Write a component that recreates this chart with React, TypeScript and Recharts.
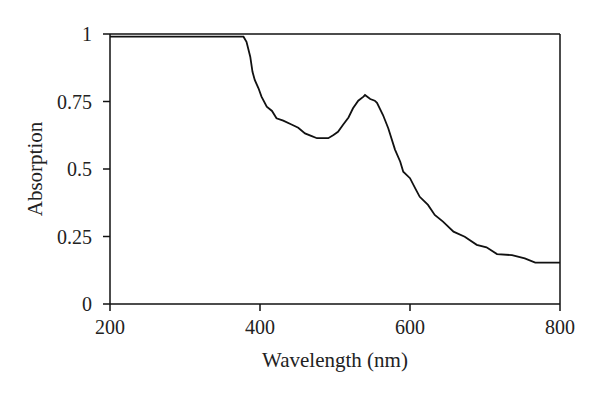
import { LineChart, Line, XAxis, YAxis, ReferenceLine } from "recharts";

// wavelength (nm) and absorption
const wavelength = [
  200, 250, 300, 350, 378, 382, 387, 390, 393, 398, 402, 409, 416, 422, 431,
  442, 451, 460, 469, 476, 491, 498, 504, 511, 518, 524, 531, 538, 540, 547,
  553, 556, 564, 571, 580, 587, 591, 600, 607, 613, 624, 633, 644, 658, 673,
  689, 702, 716, 736, 753, 767, 800,
];
const absorption = [
  0.99, 0.99, 0.99, 0.99, 0.99, 0.971, 0.916, 0.86, 0.83, 0.799, 0.768, 0.731,
  0.715, 0.688, 0.679, 0.665, 0.653, 0.632, 0.622, 0.614, 0.614, 0.626, 0.638,
  0.665, 0.691, 0.725, 0.753, 0.768, 0.774, 0.759, 0.753, 0.745, 0.7, 0.651,
  0.572, 0.527, 0.49, 0.466, 0.428, 0.397, 0.367, 0.33, 0.305, 0.268, 0.249,
  0.219, 0.21, 0.185, 0.181, 0.169, 0.153, 0.153,
];
const xTicks = [200, 400, 600, 800];
const yTicks = [0, 0.25, 0.5, 0.75, 1];

const data = wavelength.map((w, i) => ({ w, a: absorption[i] }));

const font = "'Liberation Serif', 'Times New Roman', serif";
const tickStyle = { fontFamily: font, fontSize: 20, fill: "#222" };
const titleStyle = { fontFamily: font, fontSize: 21, fill: "#222" };

export default function App() {
  return (
    <div style={{ position: "absolute", left: 0, top: 0, background: "#fff" }}>
      <LineChart
        width={600}
        height={393}
        data={data}
        margin={{ top: 34, right: 40, bottom: 59, left: 10 }}
      >
        <XAxis
          dataKey="w"
          type="number"
          domain={[200, 800]}
          ticks={xTicks}
          tickSize={7}
          tickMargin={9}
          height={30}
          stroke="#111"
          strokeWidth={1.5}
          tick={tickStyle}
          label={{
            value: "Wavelength (nm)",
            position: "bottom",
            offset: 18,
            style: titleStyle,
          }}
        />
        <YAxis
          type="number"
          domain={[0, 1]}
          ticks={yTicks}
          width={100}
          tickSize={7}
          tickMargin={11}
          stroke="#111"
          strokeWidth={1.5}
          tick={tickStyle}
          label={{
            value: "Absorption",
            angle: -90,
            position: "insideLeft",
            offset: 25,
            textAnchor: "middle",
            style: titleStyle,
          }}
        />
        {/* box border */}
        <ReferenceLine y={1} stroke="#111" strokeWidth={1.5} />
        <ReferenceLine x={800} stroke="#111" strokeWidth={1.5} />
        <Line
          type="linear"
          dataKey="a"
          stroke="#111"
          strokeWidth={1.8}
          dot={false}
          isAnimationActive={false}
        />
      </LineChart>
    </div>
  );
}
